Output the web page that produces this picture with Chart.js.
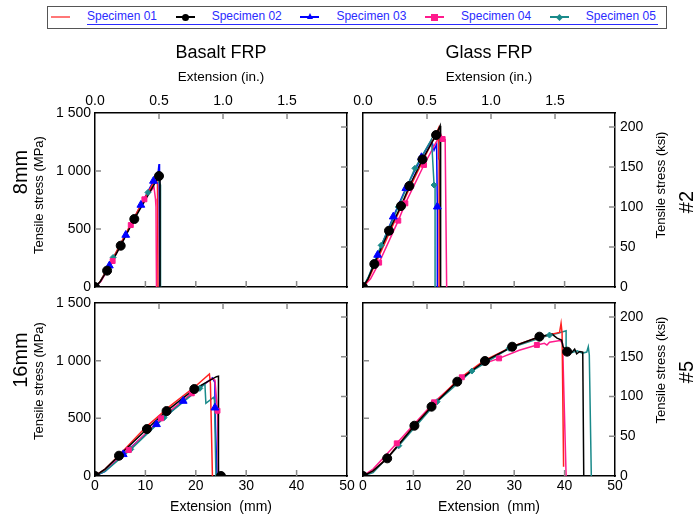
<!DOCTYPE html>
<html>
<head>
<meta charset="utf-8">
<title>Tensile stress vs extension - Basalt / Glass FRP</title>
<script src="https://cdn.jsdelivr.net/npm/chart.js@4.4.1/dist/chart.umd.min.js"></script>
<style>
  body { margin: 0; background: #fff; }
  #page { position: relative; width: 695px; height: 516px; overflow: hidden; font-family: "Liberation Sans", Arial, sans-serif; color: #000; }
  #page canvas { position: absolute; left: 0; top: 0; }
  .txt { position: absolute; white-space: nowrap; line-height: 1; transform: translate(-50%, -50%); }
  .up { transform: translate(-50%, -50%) rotate(-90deg); }
  #legend { position: absolute; left: 47px; top: 6px; width: 618px; height: 21px; border: 1px solid #555; background: #fff; }
  #legend .name { position: absolute; top: 3px; font-size: 12px; line-height: 13px; color: #2b2bff; white-space: nowrap; }
  #legend .line { position: absolute; top: 9px; width: 19px; height: 2px; }
  #legend .mk { position: absolute; }
  #legend .uline { position: absolute; left: 39px; width: 571px; top: 17px; height: 1px; background: #2b2bff; z-index: 2; }
</style>
</head>
<body>
<div id="page">
  <canvas id="b8" width="695" height="516"></canvas>
  <canvas id="g8" width="695" height="516"></canvas>
  <canvas id="b16" width="695" height="516"></canvas>
  <canvas id="g16" width="695" height="516"></canvas>

  <div id="legend"><div class="uline"></div></div>

  <div class="txt" style="left:221px;top:52px;font-size:18px">Basalt FRP</div>
  <div class="txt" style="left:489px;top:52px;font-size:18px">Glass FRP</div>
  <div class="txt" style="left:221px;top:77px;font-size:13.5px">Extension (in.)</div>
  <div class="txt" style="left:489px;top:77px;font-size:13.5px">Extension (in.)</div>
  <div class="txt" style="left:221px;top:506px;font-size:14px">Extension&nbsp;&nbsp;(mm)</div>
  <div class="txt" style="left:489px;top:506px;font-size:14px">Extension&nbsp;&nbsp;(mm)</div>

  <div class="txt up" style="left:20px;top:172px;font-size:20px">8mm</div>
  <div class="txt up" style="left:20px;top:360px;font-size:20px">16mm</div>
  <div class="txt up" style="left:38px;top:195px;font-size:13px">Tensile stress (MPa)</div>
  <div class="txt up" style="left:38px;top:381px;font-size:13px">Tensile stress (MPa)</div>
  <div class="txt up" style="left:660px;top:185px;font-size:13px">Tensile stress (ksi)</div>
  <div class="txt up" style="left:660px;top:370px;font-size:13px">Tensile stress (ksi)</div>
  <div class="txt up" style="left:686px;top:202px;font-size:20px">#2</div>
  <div class="txt up" style="left:686px;top:372px;font-size:20px">#5</div>
</div>

<script>
// ---- data: [extension (mm), tensile stress (MPa)] ----
const specimenNames = ['Specimen 01', 'Specimen 02', 'Specimen 03', 'Specimen 04', 'Specimen 05'];
const specimenColors = ['#ff2020', '#000000', '#0000ff', '#ff1a8c', '#1a8a8a'];
const markerStyles = ['circle', 'circle', 'triangle', 'rect', 'rectRot'];
const markerSizes = [0, 4.5, 4.5, 3.5, 3];

const mmTicks = [0, 10, 20, 30, 40, 50];
const inTicks = [0, 0.5, 1.0, 1.5];
const mpaTicks = [0, 500, 1000, 1500];
const ksiTicks = [0, 50, 100, 150, 200];

// Basalt FRP, 8 mm (#2)
const b8_s01 = [[0,0],[1,45],[3,200],[6,450],[9,700],[11.5,890],[12.2,930],[12.4,880],[12.5,0]];
const b8_s02 = [[0,0],[1,45],[2.4,141],[5.1,356],[7.8,586],[10.5,790],[12.7,957],[12.9,930],[12.9,0]];
const b8_s03 = [[0,0],[1,40],[2.85,184],[6.1,448],[9.1,707],[11.6,914],[12.5,975],[12.7,1060],[12.8,920],[12.8,0]];
const b8_s04 = [[0,0],[1.2,50],[3.5,224],[7.1,534],[9.8,756],[11.7,862],[12.0,760],[12.1,690],[12.2,0]];
const b8_s05 = [[0,0],[1,45],[3.6,250],[7.6,578],[10.6,820],[12.4,928],[13.0,880],[13.0,0]];
const b8_m02 = [[0,0],[2.4,141],[5.1,356],[7.8,586],[12.7,957]];
const b8_m03 = [[2.85,184],[6.1,448],[9.1,707],[11.6,914]];
const b8_m04 = [[0,0],[3.5,224],[7.1,534],[9.8,756]];
const b8_m05 = [[0,0],[3.6,255],[7.6,578],[10.5,815]];

// Glass FRP, 8 mm (#2)
const g8_s01 = [[0,0],[1,60],[3,250],[6,540],[9,830],[12,1100],[14.5,1320],[15.0,1370],[15.0,1110],[15.1,1090],[15.1,0]];
const g8_s02 = [[0,0],[1,70],[2.25,198],[5.16,485],[7.54,698],[9.2,871],[11.8,1100],[14.5,1310],[15.3,1390],[15.4,1300],[15.4,0]];
const g8_s03 = [[0,0],[1,70],[2.9,276],[6.0,606],[8.5,851],[11.6,1118],[13.6,1267],[14.1,1180],[14.6,1230],[14.75,692],[14.75,0]];
const g8_s04 = [[0,0],[1.5,70],[3.2,210],[7.0,572],[8.4,721],[12.1,1052],[15.4,1320],[15.8,1276],[16.3,1270],[16.6,0]];
const g8_s05 = [[0,0],[1,80],[3.6,359],[7.0,690],[10.3,1023],[13.6,1273],[14.1,879],[14.3,870],[14.3,0]];
const g8_m02 = [[0,0],[2.25,198],[5.16,485],[7.54,698],[9.2,871],[11.8,1100],[14.5,1310]];
const g8_m03 = [[2.9,276],[6.0,606],[8.5,851],[11.6,1118],[14.75,692]];
const g8_m04 = [[0,0],[3.2,210],[7.0,572],[8.4,721],[12.1,1052],[15.8,1276]];
const g8_m05 = [[0,0],[3.6,359],[7.0,690],[10.3,1023],[14.1,879]];

// Basalt FRP, 16 mm (#5)
const b16_s01 = [[0,0],[2,60],[5,190],[10,420],[15,610],[20,780],[22.7,885],[22.9,800],[23.3,0]];
const b16_s02 = [[0,0],[2,60],[4.76,176],[10.3,407],[14.2,563],[19.7,754],[24.1,861],[24.5,865],[24.5,0],[25,0]];
const b16_s03 = [[0,0],[2,40],[5.6,188],[12.2,448],[17.5,650],[23.3,850],[23.8,810],[23.8,592],[24.2,0]];
const b16_s04 = [[0,0],[2,55],[6.7,225],[13.1,500],[19.2,717],[23.2,847],[23.8,830],[24.3,566],[24.5,0]];
const b16_s05 = [[0,0],[2,40],[7.1,231],[13.7,506],[20.8,760],[21.8,800],[22.0,630],[23.5,682],[23.7,660],[24.0,0]];
const b16_m02 = [[0,0],[4.76,176],[10.3,407],[14.2,563],[19.7,754],[25,0]];
const b16_m03 = [[5.6,188],[12.2,448],[17.5,650],[23.8,592]];
const b16_m04 = [[0,0],[6.7,225],[13.1,500],[19.2,717],[24.3,566]];
const b16_m05 = [[7.1,231],[13.7,506],[20.8,760]];

// Glass FRP, 16 mm (#5)
const g16_s01 = [[0,0],[2,45],[5,165],[10,430],[14,625],[19,840],[24,1000],[30,1130],[35,1205],[39,1245],[39.3,1324],[39.5,1240],[39.8,80]];
const g16_s02 = [[0,0],[2,45],[4.8,153],[10.2,436],[13.6,601],[18.7,818],[24.2,997],[29.6,1121],[35.0,1208],[37.5,1230],[38.5,1195],[39.4,1179],[39.7,1121],[40.5,1078],[41.5,1075],[42,1100],[42.4,1060],[43.0,1080],[43.6,1075],[43.8,0]];
const g16_s03 = [];
const g16_s04 = [[0,0],[2,60],[6.7,283],[14.1,639],[19.6,856],[23,960],[27.0,1020],[31,1090],[34.5,1136],[36,1150],[36.5,1135],[37,1160],[39.1,1175],[39.6,1150],[40.3,0]];
const g16_s05 = [[0,0],[2,30],[7.1,263],[14.7,644],[21.6,910],[29.0,1107],[37.0,1222],[38.5,1235],[40.3,1260],[40.3,1078],[41.5,1070],[42.5,1085],[43.5,1065],[44.4,1075],[44.7,1121],[44.9,1050],[45.3,0]];
const g16_m02 = [[0,0],[4.8,153],[10.2,436],[13.6,601],[18.7,818],[24.2,997],[29.6,1121],[35.0,1208],[40.5,1078]];
const g16_m03 = [];
const g16_m04 = [[0,0],[6.7,283],[14.1,639],[19.6,856],[27.0,1020],[34.5,1136]];
const g16_m05 = [[0,0],[7.1,263],[14.7,644],[21.6,910],[29.0,1107],[37.0,1222]];

const MPA_PER_KSI = 6.894757;
const MM_PER_IN = 25.4;
const FONT = '"Liberation Sans", Arial, sans-serif';

// legend
const legendEl = document.getElementById('legend');
specimenNames.forEach((name, i) => {
  const x0 = 3 + i * 124.7;
  const ln = document.createElement('div');
  ln.className = 'line';
  ln.style.left = x0 + 'px';
  ln.style.background = i === 0 ? '#ff7777' : specimenColors[i];
  legendEl.appendChild(ln);
  if (i > 0) {
    const mk = document.createElement('div');
    mk.className = 'mk';
    const cx = x0 + 9.5, cy = 10;
    if (markerStyles[i] === 'circle') {
      Object.assign(mk.style, { left: (cx - 3.5) + 'px', top: (cy - 3.5) + 'px', width: '7px', height: '7px', borderRadius: '50%', background: specimenColors[i] });
    } else if (markerStyles[i] === 'triangle') {
      Object.assign(mk.style, { left: (cx - 3) + 'px', top: (cy - 4) + 'px', width: 0, height: 0, borderLeft: '3px solid transparent', borderRight: '3px solid transparent', borderBottom: '6px solid ' + specimenColors[i] });
    } else if (markerStyles[i] === 'rect') {
      Object.assign(mk.style, { left: (cx - 3.5) + 'px', top: (cy - 3.5) + 'px', width: '7px', height: '7px', background: specimenColors[i] });
    } else {
      Object.assign(mk.style, { left: (cx - 2.5) + 'px', top: (cy - 2.5) + 'px', width: '5px', height: '5px', background: specimenColors[i], transform: 'rotate(45deg)' });
    }
    legendEl.appendChild(mk);
  }
  const t = document.createElement('div');
  t.className = 'name';
  t.style.left = (x0 + 36) + 'px';
  t.textContent = name;
  legendEl.appendChild(t);
});

function toXY(arr) {
  return arr.map(p => ({ x: p[0], y: p[1] }));
}

function fixedTicks(list) {
  return function (scale) { scale.ticks = list.map(v => ({ value: v })); };
}

function fixedSize(px) {
  return function (scale) {
    if (scale.isHorizontal()) scale.height = px; else scale.width = px;
  };
}

// short grey tick marks drawn inward from the frame
const innerTicks = {
  id: 'innerTicks',
  afterDatasetsDraw(chart) {
    const ctx = chart.ctx, a = chart.chartArea;
    ctx.save();
    ctx.strokeStyle = '#8a8a8a';
    ctx.lineWidth = 1.5;
    ctx.beginPath();
    Object.values(chart.scales).forEach(s => {
      s.ticks.forEach(t => {
        const p = s.getPixelForValue(t.value);
        if (s.isHorizontal()) {
          if (p < a.left + 2 || p > a.right - 2) return;
          if (s.position === 'bottom') { ctx.moveTo(p, a.bottom); ctx.lineTo(p, a.bottom - 6); }
          else { ctx.moveTo(p, a.top); ctx.lineTo(p, a.top + 6); }
        } else {
          if (p < a.top + 2 || p > a.bottom - 2) return;
          if (s.position === 'left') { ctx.moveTo(a.left, p); ctx.lineTo(a.left + 6, p); }
          else { ctx.moveTo(a.right, p); ctx.lineTo(a.right - 6, p); }
        }
      });
    });
    ctx.stroke();
    ctx.restore();
  }
};

function mpaLabel(v) {
  return v >= 1000 ? String(v).slice(0, -3) + ' ' + String(v).slice(-3) : String(v);
}

function axis(position, min, max, ticks, show, pad, size, cb) {
  return {
    type: 'linear', position: position, min: min, max: max,
    afterBuildTicks: fixedTicks(ticks),
    afterFit: fixedSize(size),
    grid: { display: false, drawTicks: false },
    border: { display: true, color: '#000', width: 1.5 },
    ticks: {
      display: show, color: '#000', padding: pad, autoSkip: false, maxRotation: 0,
      font: { family: FONT, size: 14 },
      callback: cb || (v => String(v))
    }
  };
}

function makePanel(id, area, lines, marks, show) {
  const datasets = [];
  marks.forEach((m, i) => {
    if (!m.length) return;
    datasets.push({
      type: 'scatter', data: toXY(m), showLine: false,
      pointStyle: markerStyles[i], pointRadius: markerSizes[i],
      backgroundColor: specimenColors[i], borderColor: specimenColors[i], borderWidth: 1
    });
  });
  // black drawn above the others, red last underneath
  [1, 0, 4, 3, 2].forEach(i => {
    if (!lines[i].length) return;
    datasets.push({
      type: 'line', data: toXY(lines[i]), borderColor: specimenColors[i],
      borderWidth: 1.5, pointRadius: 0, tension: 0, fill: false
    });
  });
  const W = 695, H = 516;
  const sz = { left: 60, right: 40, top: 26, bottom: 26 };
  new Chart(document.getElementById(id), {
    type: 'scatter',
    data: { datasets: datasets },
    options: {
      responsive: false,
      animation: false,
      events: [],
      layout: {
        padding: {
          left: area.l - sz.left,
          right: W - area.r - sz.right,
          top: area.t - sz.top,
          bottom: H - area.b - sz.bottom
        }
      },
      scales: {
        x: axis('bottom', 0, 50, mmTicks, show.mm, 2, sz.bottom),
        x2: axis('top', 0, 50 / MM_PER_IN, inTicks, show.inch, 3, sz.top, v => v.toFixed(1)),
        y: axis('left', 0, 1500, mpaTicks, show.mpa, 4, sz.left, mpaLabel),
        y2: axis('right', 0, 1500 / MPA_PER_KSI, ksiTicks, show.ksi, 5, sz.right)
      },
      plugins: { legend: { display: false }, tooltip: { enabled: false } }
    },
    plugins: [innerTicks]
  });
}

makePanel('b8', { l: 95, t: 113, r: 347, b: 287 },
  [b8_s01, b8_s02, b8_s03, b8_s04, b8_s05], [[], b8_m02, b8_m03, b8_m04, b8_m05],
  { mm: false, inch: true, mpa: true, ksi: false });
makePanel('g8', { l: 363, t: 113, r: 615, b: 287 },
  [g8_s01, g8_s02, g8_s03, g8_s04, g8_s05], [[], g8_m02, g8_m03, g8_m04, g8_m05],
  { mm: false, inch: true, mpa: false, ksi: true });
makePanel('b16', { l: 95, t: 303, r: 347, b: 476 },
  [b16_s01, b16_s02, b16_s03, b16_s04, b16_s05], [[], b16_m02, b16_m03, b16_m04, b16_m05],
  { mm: true, inch: false, mpa: true, ksi: false });
makePanel('g16', { l: 363, t: 303, r: 615, b: 476 },
  [g16_s01, g16_s02, g16_s03, g16_s04, g16_s05], [[], g16_m02, g16_m03, g16_m04, g16_m05],
  { mm: true, inch: false, mpa: false, ksi: true });
</script>
</body>
</html>
